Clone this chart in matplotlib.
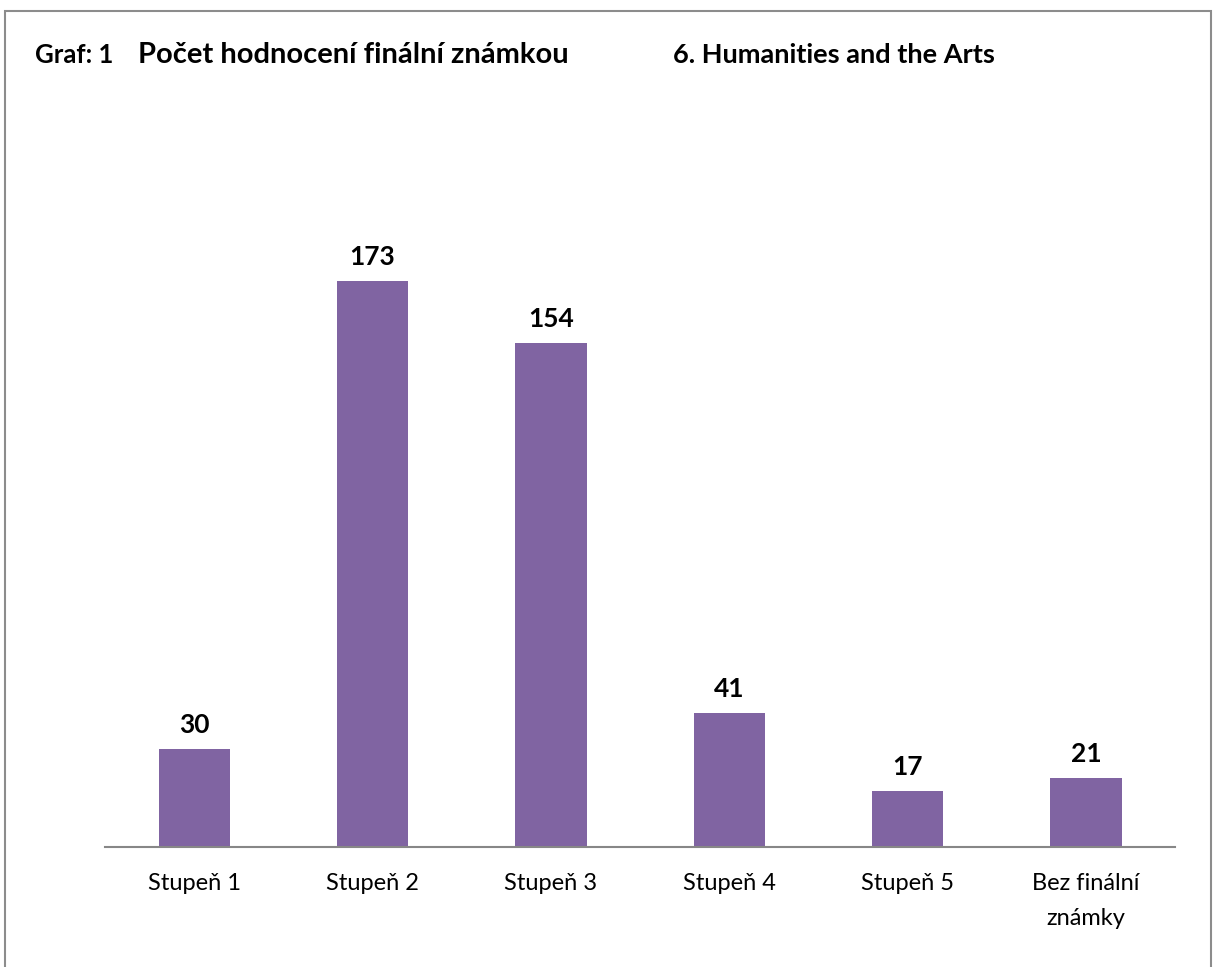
import matplotlib
matplotlib.use('Agg')
import matplotlib.pyplot as plt
from matplotlib.patches import Rectangle

# data
categories = ['Stupeň 1', 'Stupeň 2', 'Stupeň 3', 'Stupeň 4', 'Stupeň 5', 'Bez finální\nznámky']
counts = [30, 173, 154, 41, 17, 21]

plt.rcParams['font.family'] = ['Lato', 'DejaVu Sans']

fig = plt.figure(figsize=(12.14, 9.67), dpi=100)
ax = fig.add_axes([0.0865, 0.1241, 0.968 - 0.0865, 0.8004 - 0.1241])

x = list(range(len(categories)))
ax.bar(x, counts, width=0.4, color='#8064A2')
for xi, v in zip(x, counts):
    ax.annotate(str(v), (xi, v), xytext=(0, 11.5), textcoords='offset points',
                ha='center', va='baseline', fontsize=19, fontweight='bold')

ax.set_xlim(-0.5, 5.5)
ax.set_ylim(0, 200)
ax.set_xticks(x)
ax.set_xticklabels(categories, fontsize=17, linespacing=1.8, va='top')
ax.tick_params(axis='x', length=0, pad=19)
ax.set_yticks([])
for s in ['top', 'right', 'left']:
    ax.spines[s].set_visible(False)
ax.spines['bottom'].set_color('#878787')
ax.spines['bottom'].set_linewidth(1.5)

# outer border
fig.patches.append(Rectangle((5 / 1214, -0.01), 1206 / 1214, 1 - 11 / 967 + 0.01,
                             transform=fig.transFigure, fill=False,
                             edgecolor='#8c8c8c', linewidth=1.5))

fig.text(35 / 1214, 1 - 63 / 967, 'Graf: 1', fontsize=18.5, fontweight='bold', va='baseline')
fig.text(138 / 1214, 1 - 63 / 967, 'Počet hodnocení finální známkou', fontsize=21,
         fontweight='bold', va='baseline')
fig.text(673 / 1214, 1 - 63 / 967, '6. Humanities and the Arts', fontsize=19.5,
         fontweight='bold', va='baseline')

fig.savefig('out.png', dpi=100)
